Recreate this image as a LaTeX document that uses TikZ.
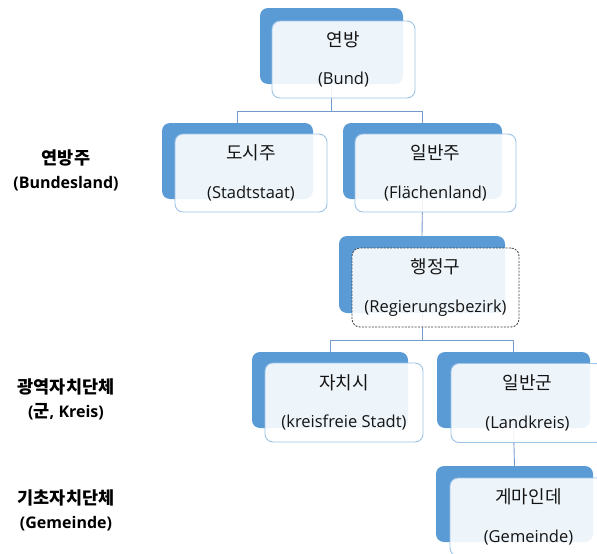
\documentclass[tikz,border=0pt]{standalone}
\usepackage{fontspec}
\setmainfont{Open Sans}
\newfontfamily\krfont{Noto Sans CJK KR}
\newfontfamily\krboldfont{Noto Sans CJK KR Bold}
\newcommand\kr[1]{{\krfont\fontsize{18}{20}\selectfont #1}}
\newcommand\krb[1]{{\krboldfont\fontsize{17.5}{20}\selectfont #1}}
\definecolor{bback}{RGB}{91,155,213}
\definecolor{bline}{RGB}{157,195,230}
\definecolor{lineblue}{RGB}{115,155,205}
\definecolor{tgray}{RGB}{20,20,20}
\tikzset{
  backbox/.style={fill=bback, draw=none, rounded corners=8pt, inner sep=0pt},
  frontbox/.style={draw=bline, line width=0.9pt, fill=white, fill opacity=0.9, text opacity=1,
    rounded corners=8pt, align=center, inner sep=0pt, text=tgray,
    font=\fontsize{16.5}{38.5}\selectfont},
  dashfront/.style={frontbox, draw=black!75, line width=0.8pt, dash pattern=on 2pt off 1.3pt},
  conn/.style={draw=lineblue, line width=0.9pt},
  sidelabel/.style={align=center, text=black, font=\bfseries\fontsize{16}{24}\selectfont}
}
\begin{document}
\begin{tikzpicture}[x=1pt,y=-1pt]
\useasboundingbox (0,0) rectangle (597,554);
% back boxes
\node[backbox, minimum width=143pt, minimum height=76pt] (b1) at (331.5,46) {};
\node[backbox, minimum width=151pt, minimum height=76pt] (b2) at (237.5,161) {};
\node[backbox, minimum width=159pt, minimum height=76pt] (b3) at (422.5,161) {};
\node[backbox, minimum width=166pt, minimum height=77pt] (b4) at (422,274.5) {};
\node[backbox, minimum width=156pt, minimum height=76pt] (b5) at (330,390) {};
\node[backbox, minimum width=153pt, minimum height=76pt] (b6) at (513.5,390) {};
\node[backbox, minimum width=157pt, minimum height=76pt] (b7) at (514.5,504) {};
% connectors
\coordinate (h1) at (0,111);
\coordinate (h2) at (0,340);
\draw[conn] (b1.south) -- (b1.south |- h1) -| (b2.north);
\draw[conn] (b1.south |- h1) -| (b3.north);
\draw[conn] (b3.south) -- (b4.north);
\draw[conn] (b4.south) -- (b4.south |- h2) -| (b5.north);
\draw[conn] (b4.south |- h2) -| (b6.north);
\draw[conn] (b6.south) -- (b7.north);
% front boxes
\node[frontbox, minimum width=143pt, minimum height=77pt] (f1) at (343.5,59.5) {\kr{연방}\\(Bund)};
\node[frontbox, minimum width=152pt, minimum height=78pt] (f2) at (251,173) {\kr{도시주}\\(Stadtstaat)};
\node[frontbox, minimum width=161pt, minimum height=78pt] (f3) at (435.5,173) {\kr{일반주}\\(Flächenland)};
\node[dashfront, minimum width=167pt, minimum height=79pt] (f4) at (435.5,287.5) {\kr{행정구}\\(Regierungsbezirk)};
\node[frontbox, minimum width=158pt, minimum height=79pt] (f5) at (344,402.5) {\kr{자치시}\\(kreisfreie Stadt)};
\node[frontbox, minimum width=153pt, minimum height=79pt] (f6) at (527.5,403) {\kr{일반군}\\(Landkreis)};
\node[frontbox, minimum width=157pt, minimum height=78pt] (f7) at (528.5,517) {\kr{게마인데}\\(Gemeinde)};
% side labels
\node[sidelabel] (l1) at (66,170) {\krb{연방주}\\(Bundesland)};
\node[sidelabel] (l2) at (66,399) {\krb{광역자치단체}\\(\krb{군}, Kreis)};
\node[sidelabel] (l3) at (66,510) {\krb{기초자치단체}\\(Gemeinde)};
\end{tikzpicture}
\end{document}
